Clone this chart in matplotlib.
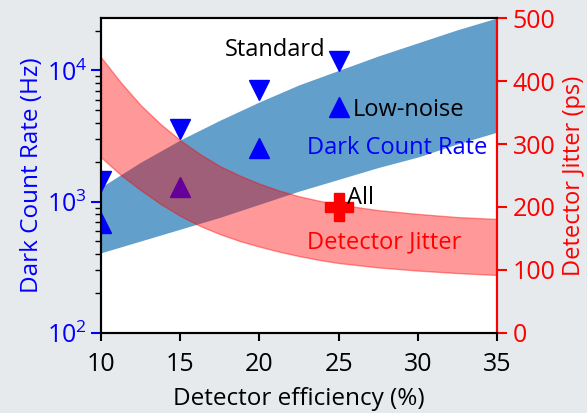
import numpy as np
import matplotlib
matplotlib.use("Agg")
import matplotlib.pyplot as plt

# ---- data ----
eff = [10, 12.5, 15, 17.5, 20, 22.5, 25, 27.5, 30, 32.5, 35]

# dark count rate band, log10(Hz)
dcr_hi_log = [3.11, 3.30, 3.47, 3.62, 3.76, 3.89, 4.00, 4.11, 4.21, 4.31, 4.40]
dcr_lo_log = [2.61, 2.70, 2.79, 2.88, 2.98, 3.08, 3.17, 3.26, 3.34, 3.44, 3.53]

# detector jitter band (ps), read a bit denser where it bends
jit_eff = [10, 11.25, 12.5, 13.75, 15, 16.25, 17.5, 18.75, 20, 21.25,
           22.5, 23.75, 25, 27.5, 30, 32.5, 35]
jit_hi = [438, 398, 362, 332, 306, 284, 265, 250, 237, 226,
          217, 210, 204, 195, 189, 184, 181]
jit_lo = [279, 251, 227, 205, 186, 170, 157, 146, 137, 129,
          122, 116, 111, 104, 99, 95, 92]

# measured points
std_eff = [10, 15, 20, 25]
std_dcr = [1440, 3550, 7030, 11700]
low_eff = [10, 15, 20, 25]
low_dcr = [690, 1300, 2580, 5220]
all_eff = [25]
all_jit = [200]

FONT = "Open Sans"
FS_TICK = 18
FS_LAB = 17.5
FS_TXT = 17
plt.rcParams["font.family"] = [FONT, "DejaVu Sans"]
plt.rcParams["mathtext.fontset"] = "custom"
plt.rcParams["mathtext.rm"] = FONT
plt.rcParams["mathtext.it"] = FONT

BG = "#e6eaed"
fig = plt.figure(figsize=(5.87, 4.13), dpi=100, facecolor=BG)
ax = fig.add_axes([0.172, 0.194, 0.675, 0.762])
ax2 = ax.twinx()

dcr_hi = 10 ** np.array(dcr_hi_log)
dcr_lo = 10 ** np.array(dcr_lo_log)
ax.fill_between(eff, dcr_lo, dcr_hi, color="#1f77b4", alpha=0.7, lw=0)
ax.plot(std_eff, std_dcr, "v", color="blue", ms=14.5, ls="none")
ax.plot(low_eff, low_dcr, "^", color="blue", ms=14.5, ls="none")

ax2.fill_between(jit_eff, jit_lo, jit_hi, color="red", alpha=0.4)
ax2.plot(all_eff, all_jit, "P", color="red", ms=20, ls="none")

ax.set_yscale("log")
ax.set_xlim(10, 35)
ax.set_ylim(100, 25000)
ax2.set_ylim(0, 500)
ax.set_xticks([10, 15, 20, 25, 30, 35])
ax2.set_yticks([0, 100, 200, 300, 400, 500])

ax.set_xlabel("Detector efficiency (%)", fontsize=FS_LAB, labelpad=7)
ax.set_ylabel("Dark Count Rate (Hz)", color="blue", fontsize=FS_LAB, labelpad=2)
ax2.set_ylabel("Detector Jitter (ps)", color="red", fontsize=17, labelpad=5)

for a in (ax, ax2):
    for s in a.spines.values():
        s.set_linewidth(1.5)
ax2.spines["right"].set_color("red")
ax.tick_params(axis="x", colors="black", width=1.5, length=6, labelsize=FS_TICK, pad=8)
ax.tick_params(axis="y", which="major", colors="blue", width=1.5, length=7,
               labelsize=FS_TICK, pad=3)
ax.tick_params(axis="y", which="minor", colors="black", width=1, length=4)
ax2.tick_params(axis="y", colors="red", width=1.5, length=7, labelsize=FS_TICK, pad=4)

ax2.text(21.0, 449, "Standard", color="black", fontsize=FS_TXT, ha="center", va="center")
ax2.text(25.9, 354, "Low-noise", color="black", fontsize=FS_TXT, ha="left", va="center")
ax2.text(28.7, 294, "Dark Count Rate", color="blue", fontsize=FS_TXT, ha="center", va="center")
ax2.text(25.5, 214, "All", color="black", fontsize=FS_TXT, ha="left", va="center")
ax2.text(27.9, 143, "Detector Jitter", color="red", fontsize=FS_TXT, ha="center", va="center")

fig.savefig("out.png", dpi=100, facecolor=BG)
